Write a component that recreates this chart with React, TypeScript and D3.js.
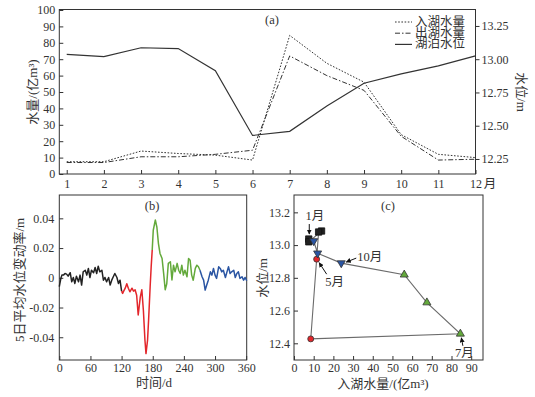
import React, { useEffect, useRef } from 'react';
import * as d3 from 'd3';

// monthly data, panel (a) and (c)
const months = [1, 2, 3, 4, 5, 6, 7, 8, 9, 10, 11, 12];
const inflow = [7.5, 7.5, 14, 12.5, 11.5, 8.5, 84.5, 67.5, 56, 24, 12, 10];
const outflow = [7, 7, 10.5, 10.5, 12, 14.5, 72, 60, 51, 23, 8.5, 9];
const lakeLevel = [13.037, 13.02, 13.086, 13.08, 12.914, 12.427, 12.458, 12.649, 12.819, 12.89, 12.95, 13.025];

// 5-day mean level change rate, panel (b)
const days = [
  0, 3, 5, 8, 11, 14, 17, 21, 24, 27, 30, 33, 37, 40, 43, 46, 50, 53, 56, 59,
  62, 66, 69, 72, 75, 78, 82, 85, 88, 91, 95, 98, 101, 104, 107, 111, 114, 117, 120, 122,
  124, 127, 130, 133, 136, 140, 143, 146, 149, 152, 156, 159, 162, 165, 167, 170, 172, 175, 177, 179,
  181, 185, 188, 191, 194, 198, 201, 204, 207, 210, 214, 217, 220, 223, 227, 230, 233, 236, 239, 242,
  246, 249, 252, 255, 258, 262, 265, 268, 271, 275, 278, 281, 284, 287, 291, 294, 297, 300, 303, 307,
  310, 313, 316, 320, 323, 326, 329, 332, 336, 339, 342, 345, 348, 352, 355, 358, 361,
];
const levelRate = [
  -0.006, -0.0004, 0.0018, 0.0018, 0.0029, 0.0025, 0.0011, 0.0034, -0.0027, 0.0002, -0.0038, 0.0011, -0.0027, 0.0018, -0.0049, 0.004, 0.0051, 0.0018, 0.0063, 0.0002,
  0.0051, 0.0034, 0.0069, 0.0029, 0.0078, 0.004, 0.0051, -0.0016, 0.0002, -0.0027, 0.0002, -0.0049, -0.0016, 0.0007, 0.0029, 0.0002, -0.0038, -0.0016, -0.009, -0.0105,
  -0.009, -0.007, -0.004, -0.007, -0.0094, -0.007, -0.009, -0.008, -0.0117, -0.025, -0.013, -0.008, -0.022, -0.042, -0.051, -0.042, -0.0285, -0.006, 0.0074, 0.0187,
  0.032, 0.0389, 0.034, 0.023, 0.0164, 0.013, 0.003, -0.008, -0.004, 0.0097, 0.0108, -0.0015, 0.0085, 0.004, 0.0097, 0.0051, 0.0029, 0.0085, 0.0018, 0.0051,
  0.0007, 0.013, 0.0118, 0.0018, -0.0016, 0.0063, 0.0085, 0.0074, 0.0051, 0.0007, -0.0016, -0.0083, -0.0049, -0.0016, 0.004, 0.0018, 0.0063, 0.0018, -0.0004, 0.0074,
  0.0063, 0.004, 0.0051, 0.0002, 0.004, 0.0074, 0.0029, 0.004, 0.0051, 0.0002, 0.0029, 0.004, -0.0004, 0.0007, -0.0016, 0.0002, -0.002,
];
const periodEnds = [120, 178, 270, 400];
const periodColors = ['#222222', '#e3262b', '#63a93b', '#2a55a3'];

const legendLabels = ['入湖水量', '出湖水量', '湖泊水位'];
const levelTicksA = [12.25, 12.5, 12.75, 13.0, 13.25];
const rateTicks = [-0.04, -0.02, 0, 0.02, 0.04];
const dayTicks = [0, 60, 120, 180, 240, 300, 360];
const inflowTicks = [0, 10, 20, 30, 40, 50, 60, 70, 80, 90];
const levelTicksC = [12.4, 12.6, 12.8, 13.0, 13.2];

const FONT = '"Liberation Serif", "Times New Roman", "Noto Sans CJK SC", serif';
const INK = '#333';

const App = () => {
  const ref = useRef(null);

  useEffect(() => {
    const svg = d3.select(ref.current);
    svg.selectAll('*').remove();

    const styleAxis = (g) => {
      g.select('.domain').remove();
      g.selectAll('text').attr('font-family', FONT).attr('font-size', 12).attr('fill', INK);
      g.selectAll('line').attr('stroke', INK);
    };
    const label = (x, y, txt, size = 13, rot = 0, anchor = 'middle') =>
      svg.append('text')
        .attr('transform', `translate(${x},${y}) rotate(${rot})`)
        .attr('text-anchor', anchor)
        .attr('dominant-baseline', 'central')
        .attr('font-family', FONT)
        .attr('font-size', size)
        .attr('fill', INK)
        .text(txt);

    // ---------- panel (a)
    const xA = d3.scaleLinear().domain([0.8, 12]).range([59.3, 475.5]);
    const yA = d3.scaleLinear().domain([0, 100]).range([174, 10]);
    const yLevel = d3.scaleLinear().domain([12.137, 13.37]).range([174, 10]);

    svg.append('rect').attr('x', 59.3).attr('y', 9.5).attr('width', 475.5 - 59.3).attr('height', 174 - 9.5)
      .attr('fill', 'none').attr('stroke', INK).attr('stroke-width', 1);

    svg.append('g').attr('transform', 'translate(59.3,0)')
      .call(d3.axisLeft(yA).tickValues(d3.range(0, 101, 10)).tickSizeInner(-4).tickSizeOuter(0).tickPadding(4))
      .call(styleAxis);
    svg.append('g').attr('transform', 'translate(0,174)')
      .call(d3.axisBottom(xA).tickValues(months).tickSizeInner(-4).tickSizeOuter(0).tickPadding(5))
      .call(styleAxis);
    svg.append('g').attr('transform', 'translate(475.5,0)')
      .call(d3.axisRight(yLevel).tickValues(levelTicksA).tickFormat(d3.format('.2f')).tickSize(4).tickPadding(2))
      .call(styleAxis);

    const lineA = d3.line().x((d, i) => xA(months[i])).y((d) => yA(d));
    const lineLevel = d3.line().x((d, i) => xA(months[i])).y((d) => yLevel(d));
    const dashes = ['1.6,1.6', '5,2,1.5,2', null];
    svg.append('path').attr('d', lineA(inflow)).attr('fill', 'none').attr('stroke', INK)
      .attr('stroke-width', 1).attr('stroke-dasharray', dashes[0]);
    svg.append('path').attr('d', lineA(outflow)).attr('fill', 'none').attr('stroke', INK)
      .attr('stroke-width', 1).attr('stroke-dasharray', dashes[1]);
    svg.append('path').attr('d', lineLevel(lakeLevel)).attr('fill', 'none').attr('stroke', INK)
      .attr('stroke-width', 1.2);

    legendLabels.forEach((t, i) => {
      const y = 22 + i * 11.2;
      const l = svg.append('line').attr('x1', 395).attr('x2', 412).attr('y1', y).attr('y2', y)
        .attr('stroke', INK).attr('stroke-width', i === 2 ? 1.2 : 1);
      if (dashes[i]) l.attr('stroke-dasharray', dashes[i]);
      label(415, y, t, 12.5, 0, 'start');
    });

    label(272, 20, '(a)', 12.5);
    label(32, 92, '水量/(亿m³)', 13, -90);
    label(521, 92, '水位/m', 13, 90);
    label(490, 184, '月', 12.5);

    // ---------- panel (b)
    const xB = d3.scaleLinear().domain([0, 361]).range([59.3, 246.7]);
    const yB = d3.scaleLinear().domain([-0.0553, 0.0557]).range([360, 195]);

    svg.append('rect').attr('x', 59.3).attr('y', 195).attr('width', 246.7 - 59.3).attr('height', 165)
      .attr('fill', 'none').attr('stroke', INK).attr('stroke-width', 1);
    svg.append('g').attr('transform', 'translate(59.3,0)')
      .call(d3.axisLeft(yB).tickValues(rateTicks).tickFormat((v) => (v === 0 ? '0' : v.toFixed(2)))
        .tickSizeInner(-4).tickSizeOuter(0).tickPadding(5))
      .call(styleAxis);
    svg.append('g').attr('transform', 'translate(0,360)')
      .call(d3.axisBottom(xB).tickValues(dayTicks).tickSizeInner(-4).tickSizeOuter(0).tickPadding(3))
      .call(styleAxis);

    const lineB = d3.line().x((k) => xB(days[k])).y((k) => yB(levelRate[k]));
    let start = 0;
    periodEnds.forEach((end, p) => {
      const idx = days.map((d, k) => k).filter((k) => days[k] >= start && days[k] < end);
      if (idx.length && idx[idx.length - 1] + 1 < days.length) idx.push(idx[idx.length - 1] + 1);
      svg.append('path').attr('d', lineB(idx)).attr('fill', 'none')
        .attr('stroke', periodColors[p]).attr('stroke-width', 1.5).attr('stroke-linejoin', 'round');
      start = end;
    });

    label(152, 206, '(b)', 12.5);
    label(19, 280, '5日平均水位变动率/m', 13, -90);
    label(154, 382, '时间/d', 13);

    // ---------- panel (c)
    const xC = d3.scaleLinear().domain([0, 96]).range([294, 483]);
    const yC = d3.scaleLinear().domain([12.298, 13.306]).range([360, 195]);

    svg.append('rect').attr('x', 294).attr('y', 195).attr('width', 483 - 294).attr('height', 165)
      .attr('fill', 'none').attr('stroke', INK).attr('stroke-width', 1);
    svg.append('g').attr('transform', 'translate(294,0)')
      .call(d3.axisLeft(yC).tickValues(levelTicksC).tickFormat(d3.format('.1f'))
        .tickSizeInner(-4).tickSizeOuter(0).tickPadding(4))
      .call(styleAxis);
    svg.append('g').attr('transform', 'translate(0,360)')
      .call(d3.axisBottom(xC).tickValues(inflowTicks).tickSizeInner(-4).tickSizeOuter(0).tickPadding(3))
      .call(styleAxis);

    const loop = months.map((m, i) => [xC(inflow[i]), yC(lakeLevel[i])]);
    svg.append('path').attr('d', d3.line()(loop.concat([loop[0]]))).attr('fill', 'none')
      .attr('stroke', '#6b6b6b').attr('stroke-width', 1.1);

    const season = (m) => (m <= 4 ? 0 : m <= 6 ? 1 : m <= 9 ? 2 : 3);
    const symbols = [d3.symbolSquare, d3.symbolCircle, d3.symbolTriangle, d3.symbolTriangle];
    const sizes = [40, 28, 28, 28];
    months.forEach((m, i) => {
      const s = season(m);
      svg.append('path')
        .attr('d', d3.symbol().type(symbols[s]).size(sizes[s])())
        .attr('transform', `translate(${loop[i][0]},${loop[i][1]})${s === 3 ? ' rotate(180)' : ''}`)
        .attr('fill', periodColors[s])
        .attr('stroke', s === 0 ? '#111' : '#333')
        .attr('stroke-width', 0.8);
    });

    svg.append('defs').append('marker')
      .attr('id', 'ah').attr('viewBox', '0 0 10 10').attr('refX', 9).attr('refY', 5)
      .attr('markerWidth', 5).attr('markerHeight', 5).attr('orient', 'auto')
      .append('path').attr('d', 'M0,0 L10,5 L0,10 Z').attr('fill', '#111');
    const arrow = (x1, y1, x2, y2) =>
      svg.append('line').attr('x1', x1).attr('y1', y1).attr('x2', x2).attr('y2', y2)
        .attr('stroke', '#111').attr('stroke-width', 1).attr('marker-end', 'url(#ah)');

    const p = (i) => loop[i];
    arrow(p(0)[0] + 0.5, p(0)[1] - 15, p(0)[0] + 0.5, p(0)[1] - 5);
    label(p(0)[0] + 6, p(0)[1] - 23, '1月', 12.5);
    arrow(p(4)[0] + 10, p(4)[1] + 15, p(4)[0] + 2.5, p(4)[1] + 3.5);
    label(p(4)[0] + 18, p(4)[1] + 23, '5月', 12.5);
    arrow(p(9)[0] + 15, p(9)[1] - 5, p(9)[0] + 5, p(9)[1] - 1);
    label(p(9)[0] + 16, p(9)[1] - 6, '10月', 12.5, 0, 'start');
    arrow(p(6)[0] + 2.5, p(6)[1] + 12, p(6)[0] + 1, p(6)[1] + 4);
    label(p(6)[0] + 4, p(6)[1] + 19, '7月', 12.5);

    label(388, 206, '(c)', 12.5);
    label(262, 278, '水位/m', 13, -90);
    label(383, 383, '入湖水量/(亿m³)', 13);
  }, []);

  return (
    <div>
      <svg ref={ref} width={535} height={397} style={{ position: 'absolute', left: 0, top: 0, background: '#fff' }} />
    </div>
  );
};

export default App;
